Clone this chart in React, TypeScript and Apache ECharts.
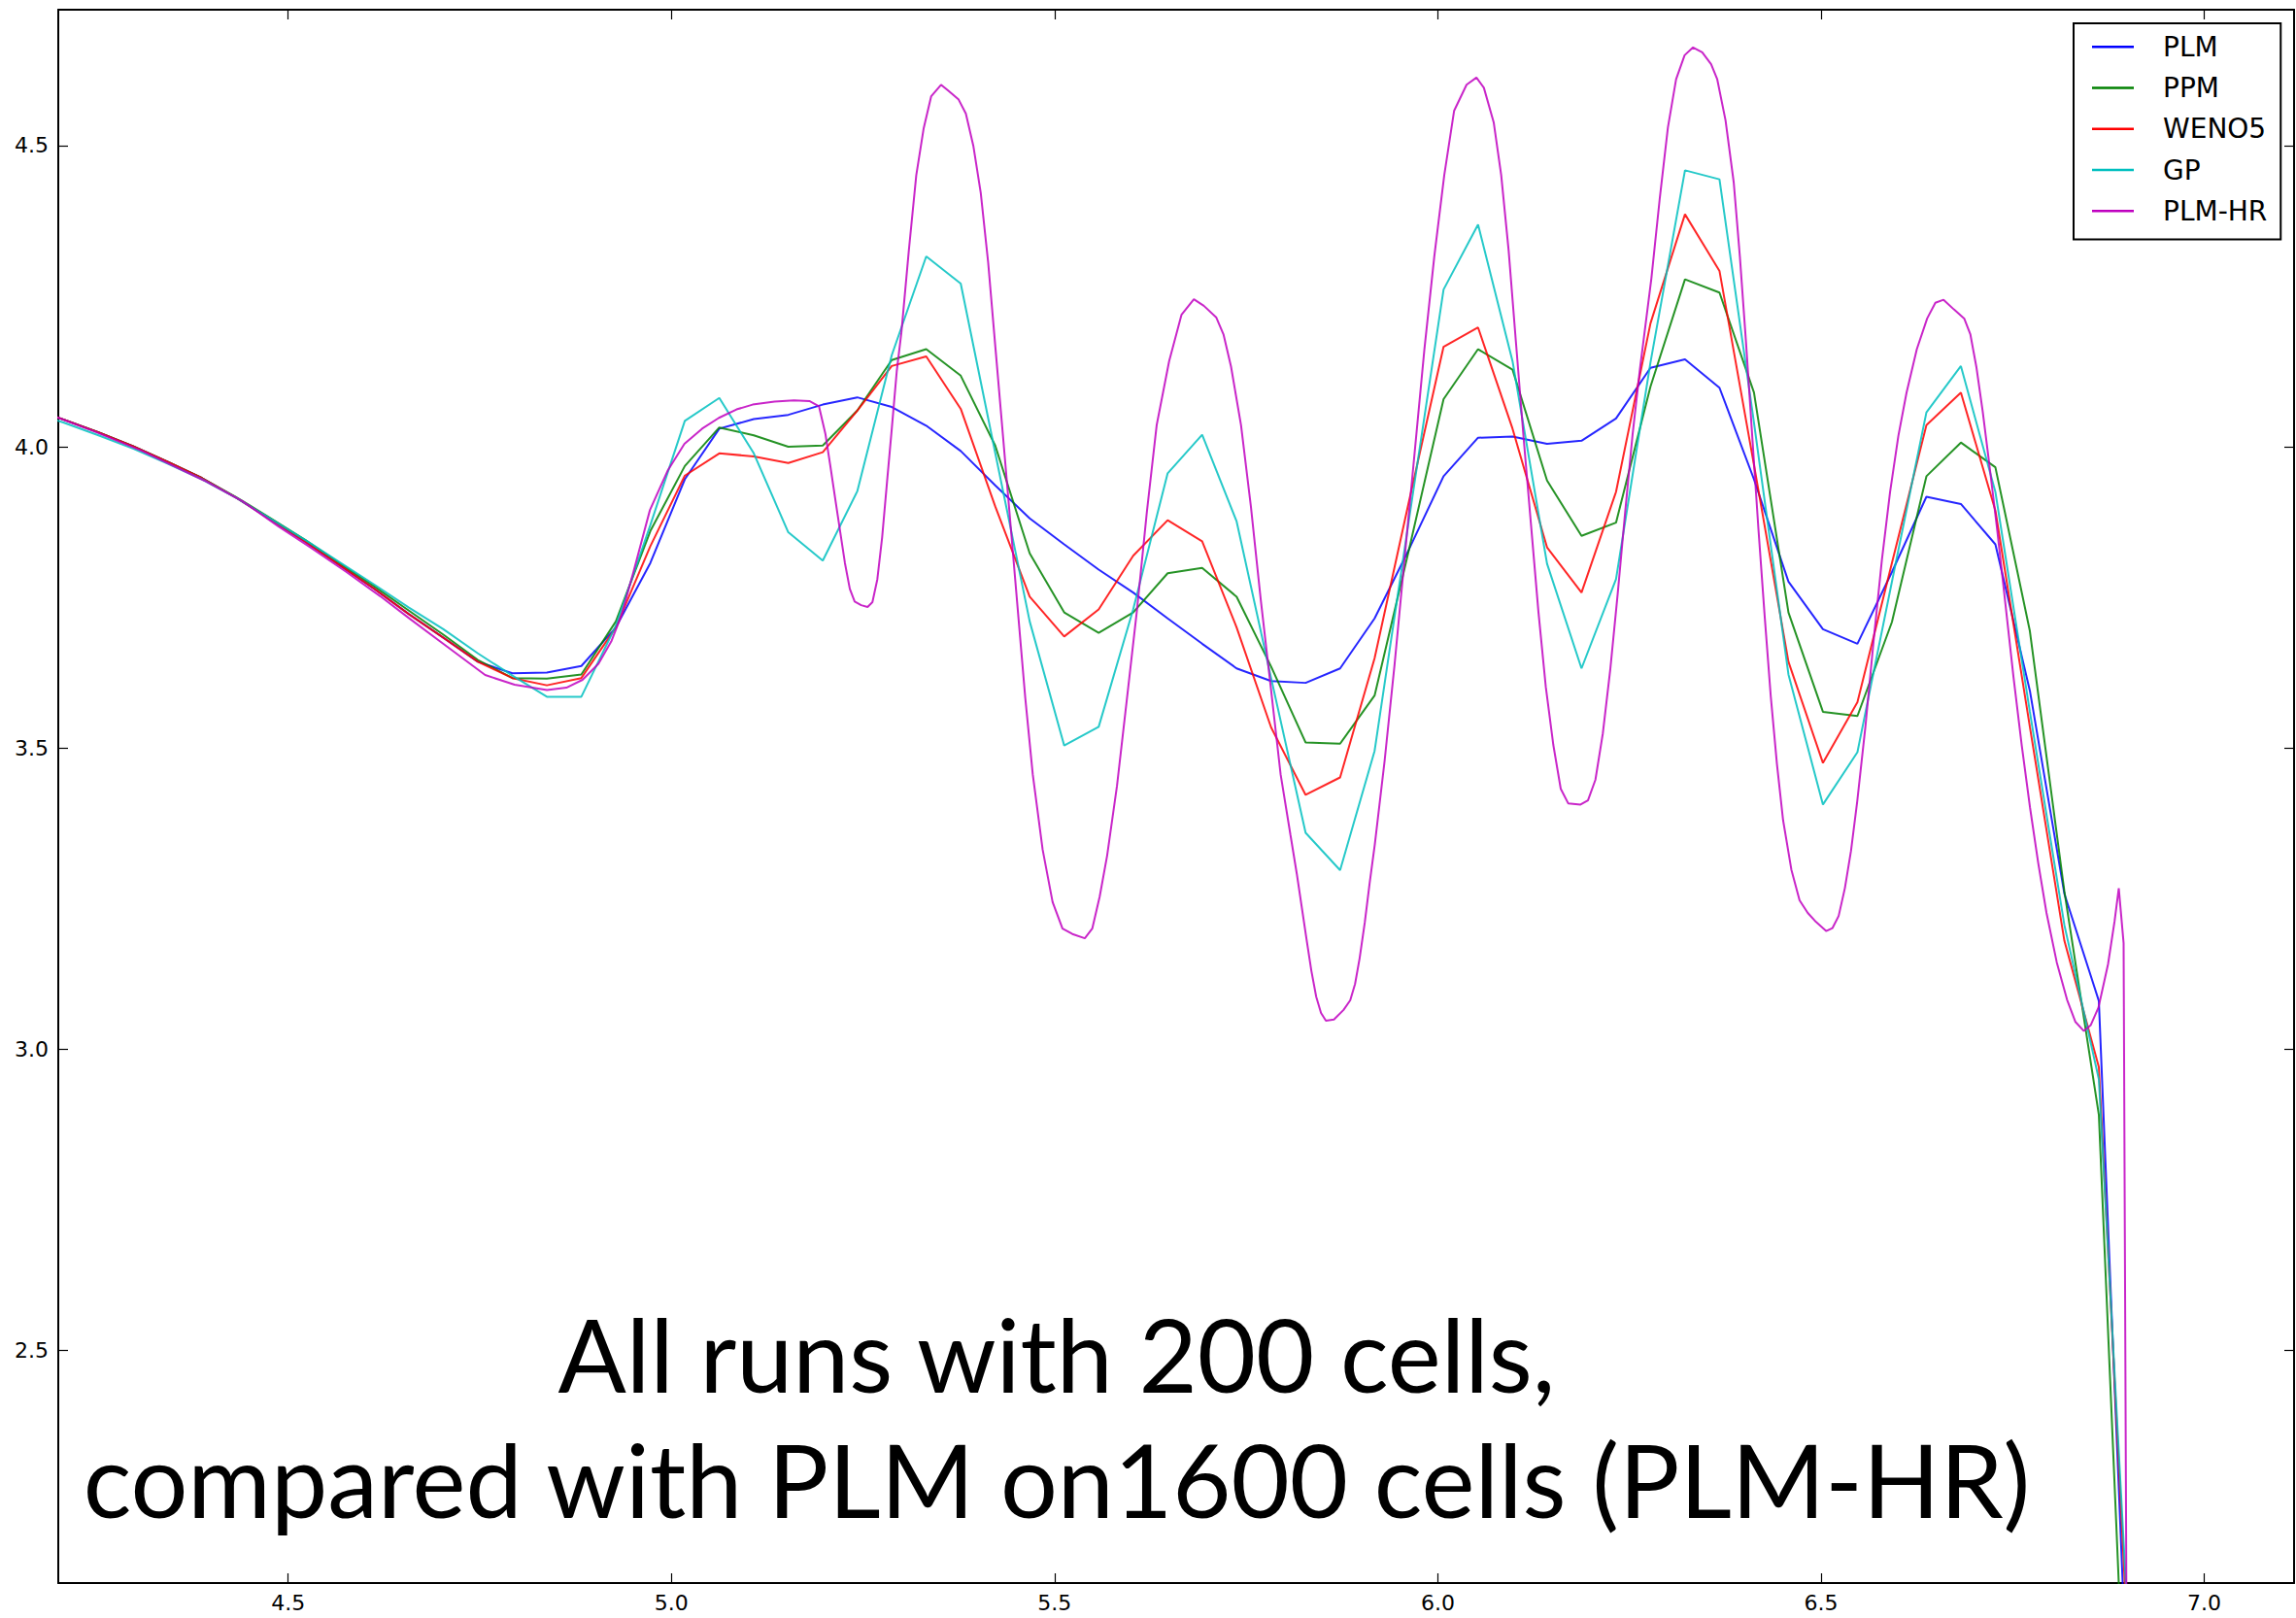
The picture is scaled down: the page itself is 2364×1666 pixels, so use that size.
import React, { useEffect, useRef } from "react";
import * as echarts from "echarts";

// Cell centres of the 200-cell runs (x)
const xCells = [
  4.1625, 4.2075, 4.2525, 4.2975, 4.3425, 4.3875, 4.4325, 4.4775, 4.5225, 4.5675,
  4.6125, 4.6575, 4.7025, 4.7475, 4.7925, 4.8375, 4.8825, 4.9275, 4.9725, 5.0175,
  5.0625, 5.1075, 5.1525, 5.1975, 5.2425, 5.2875, 5.3325, 5.3775, 5.4225, 5.4675,
  5.5125, 5.5575, 5.6025, 5.6475, 5.6925, 5.7375, 5.7825, 5.8275, 5.8725, 5.9175,
  5.9625, 6.0075, 6.0525, 6.0975, 6.1425, 6.1875, 6.2325, 6.2775, 6.3225, 6.3675,
  6.4125, 6.4575, 6.5025, 6.5475, 6.5925, 6.6375, 6.6825, 6.7275, 6.7725, 6.8175,
  6.8625, 6.9075,
];

const plm = [
  4.064, 4.045, 4.024, 4.001, 3.975, 3.948, 3.915, 3.879, 3.842, 3.803,
  3.764, 3.722, 3.683, 3.643, 3.624, 3.625, 3.636, 3.700, 3.807, 3.946,
  4.030, 4.046, 4.053, 4.070, 4.082, 4.066, 4.035, 3.993, 3.936, 3.881,
  3.838, 3.796, 3.758, 3.715, 3.673, 3.632, 3.611, 3.608, 3.632, 3.715,
  3.830, 3.951, 4.015, 4.017, 4.005, 4.010, 4.047, 4.131, 4.145, 4.098,
  3.946, 3.776, 3.697, 3.673, 3.792, 3.917, 3.905, 3.838, 3.595, 3.258,
  3.080, 1.680,
];

const ppm = [
  4.064, 4.045, 4.024, 4.001, 3.975, 3.948, 3.916, 3.881, 3.845, 3.806,
  3.768, 3.728, 3.688, 3.646, 3.616, 3.615, 3.622, 3.710, 3.860, 3.968,
  4.032, 4.019, 4.000, 4.002, 4.060, 4.144, 4.162, 4.118, 4.002, 3.823,
  3.725, 3.691, 3.725, 3.790, 3.799, 3.751, 3.635, 3.509, 3.507, 3.587,
  3.830, 4.079, 4.162, 4.128, 3.944, 3.852, 3.874, 4.100, 4.278, 4.256,
  4.090, 3.725, 3.560, 3.553, 3.709, 3.951, 4.007, 3.966, 3.694, 3.262,
  2.891, 1.545,
];

const weno5 = [
  4.064, 4.045, 4.024, 4.001, 3.975, 3.948, 3.915, 3.879, 3.842, 3.803,
  3.764, 3.722, 3.683, 3.643, 3.616, 3.604, 3.616, 3.700, 3.835, 3.952,
  3.989, 3.984, 3.973, 3.991, 4.060, 4.134, 4.150, 4.063, 3.901, 3.751,
  3.685, 3.730, 3.819, 3.878, 3.843, 3.700, 3.534, 3.422, 3.451, 3.649,
  3.910, 4.166, 4.198, 4.030, 3.833, 3.758, 3.925, 4.205, 4.386, 4.292,
  3.970, 3.643, 3.475, 3.576, 3.807, 4.036, 4.090, 3.894, 3.535, 3.180,
  2.970, 1.830,
];

const gp = [
  4.058, 4.040, 4.019, 3.997, 3.972, 3.946, 3.915, 3.880, 3.845, 3.808,
  3.771, 3.733, 3.697, 3.657, 3.620, 3.585, 3.585, 3.703, 3.870, 4.043,
  4.081, 3.989, 3.858, 3.811, 3.926, 4.152, 4.316, 4.271, 3.990, 3.710,
  3.504, 3.535, 3.730, 3.956, 4.020, 3.876, 3.616, 3.359, 3.297, 3.495,
  3.880, 4.261, 4.369, 4.142, 3.806, 3.632, 3.780, 4.140, 4.459, 4.444,
  4.040, 3.622, 3.406, 3.493, 3.776, 4.057, 4.134, 3.925, 3.560, 3.206,
  2.950, 1.880,
];

// PLM on 1600 cells
const hrX = [
  4.150, 4.2003, 4.250, 4.3095, 4.3903, 4.440, 4.487, 4.530, 4.576, 4.620,
  4.657, 4.700, 4.757, 4.7954, 4.8376, 4.863, 4.884, 4.905, 4.922, 4.935,
  4.950, 4.972, 4.995, 5.017, 5.040, 5.062, 5.085, 5.106, 5.1346, 5.160,
  5.180, 5.1926, 5.201, 5.2074, 5.2137, 5.2201, 5.2264, 5.2328, 5.2391, 5.2476,
  5.256, 5.2623, 5.2687, 5.275, 5.2813, 5.2877, 5.294, 5.3001, 5.3098, 5.3195,
  5.3292, 5.339, 5.3518, 5.3615, 5.3745, 5.3842, 5.3939, 5.4036, 5.4133, 5.423,
  5.4327, 5.4424, 5.4521, 5.4618, 5.4715, 5.4844, 5.4974, 5.5103, 5.5232, 5.5394,
  5.5491, 5.5588, 5.5685, 5.5814, 5.5944, 5.6073, 5.6203, 5.6332, 5.6494, 5.6655,
  5.6817, 5.6947, 5.7108, 5.7205, 5.7302, 5.7432, 5.7561, 5.769, 5.782, 5.7949,
  5.8078, 5.816, 5.8223, 5.8286, 5.835, 5.8413, 5.8476, 5.854, 5.8645, 5.877,
  5.8857, 5.892, 5.898, 5.9047, 5.911, 5.9178, 5.9307, 5.9437, 5.9566, 5.9696,
  5.9825, 5.9954, 6.0084, 6.0213, 6.0375, 6.0504, 6.0601, 6.073, 6.0827, 6.0924,
  6.1021, 6.1118, 6.1215, 6.1312, 6.1409, 6.1507, 6.1604, 6.1701, 6.1862, 6.1959,
  6.2056, 6.2153, 6.225, 6.2347, 6.2444, 6.2541, 6.2638, 6.2787, 6.2894, 6.3002,
  6.3109, 6.322, 6.333, 6.345, 6.3566, 6.3646, 6.3754, 6.3861, 6.3941, 6.4022,
  6.4102, 6.4183, 6.4264, 6.4344, 6.4425, 6.4505, 6.4613, 6.472, 6.4827, 6.4935,
  6.5069, 6.515, 6.523, 6.5311, 6.5391, 6.5472, 6.5579, 6.5687, 6.5794, 6.5901,
  6.6009, 6.6116, 6.625, 6.6385, 6.6492, 6.6599, 6.6734, 6.6868, 6.6948, 6.7029,
  6.7109, 6.719, 6.7297, 6.7405, 6.7512, 6.7619, 6.7727, 6.7834, 6.7942, 6.8076,
  6.821, 6.832, 6.843, 6.852, 6.862, 6.8745, 6.883, 6.8885, 6.8948, 6.9004,
];
const hrY = [
  4.071, 4.048, 4.024, 3.993, 3.944, 3.910, 3.868, 3.832, 3.792, 3.752,
  3.716, 3.675, 3.621, 3.605, 3.596, 3.600, 3.613, 3.640, 3.678, 3.721,
  3.790, 3.895, 3.960, 4.005, 4.030, 4.048, 4.062, 4.070, 4.075, 4.077,
  4.076, 4.067, 4.021, 3.968, 3.914, 3.860, 3.807, 3.764, 3.743, 3.737,
  3.734, 3.742, 3.780, 3.850, 3.941, 4.032, 4.125, 4.190, 4.326, 4.451,
  4.529, 4.582, 4.601, 4.591, 4.577, 4.553, 4.500, 4.422, 4.306, 4.161,
  4.017, 3.872, 3.727, 3.582, 3.456, 3.331, 3.244, 3.200, 3.191, 3.184,
  3.200, 3.253, 3.321, 3.437, 3.582, 3.727, 3.891, 4.036, 4.142, 4.219,
  4.245, 4.234, 4.215, 4.186, 4.133, 4.036, 3.901, 3.746, 3.601, 3.456,
  3.355, 3.291, 3.237, 3.183, 3.130, 3.087, 3.060, 3.047, 3.049, 3.065,
  3.081, 3.108, 3.151, 3.210, 3.275, 3.340, 3.480, 3.640, 3.814, 3.988,
  4.162, 4.316, 4.451, 4.558, 4.601, 4.613, 4.596, 4.538, 4.451, 4.326,
  4.171, 4.017, 3.872, 3.727, 3.601, 3.505, 3.432, 3.408, 3.406, 3.413,
  3.447, 3.524, 3.630, 3.756, 3.891, 4.020, 4.130, 4.280, 4.410, 4.530,
  4.610, 4.650, 4.663, 4.655, 4.635, 4.610, 4.542, 4.439, 4.316, 4.172,
  4.018, 3.864, 3.720, 3.586, 3.473, 3.380, 3.298, 3.247, 3.226, 3.211,
  3.196, 3.201, 3.221, 3.267, 3.329, 3.411, 3.535, 3.679, 3.812, 3.925,
  4.018, 4.090, 4.162, 4.213, 4.239, 4.244, 4.228, 4.213, 4.187, 4.131,
  4.059, 3.977, 3.864, 3.740, 3.617, 3.504, 3.401, 3.309, 3.226, 3.144,
  3.082, 3.045, 3.030, 3.040, 3.069, 3.141, 3.212, 3.267, 3.176, 1.500,
];

const seriesNames = ["PLM", "PPM", "WENO5", "GP", "PLM-HR"];
const seriesColors = ["#0000ff", "#008000", "#ff0000", "#00bfbf", "#bf00bf"];
const xTicks = [4.5, 5.0, 5.5, 6.0, 6.5, 7.0];
const yTicks = [2.5, 3.0, 3.5, 4.0, 4.5];
const annotationLines = ["All runs with 200 cells,", "compared with PLM on1600 cells (PLM-HR)"];

const X_MIN = 4.2;
const X_MAX = 7.1172;
const Y_MIN = 2.1135;
const Y_MAX = 4.7256;

export default function App() {
  const ref = useRef<HTMLDivElement>(null);

  useEffect(() => {
    if (!ref.current) return;
    const chart = echarts.init(ref.current, null, { renderer: "svg", width: 2364, height: 1666 });

    const coarse = [plm, ppm, weno5, gp].map((vals) => xCells.map((x, k) => [x, vals[k]]));
    const hr = hrX.map((x, k) => [x, hrY[k]]);
    const allData = [...coarse, hr];

    const tickFmt = (v: number) => v.toFixed(1);
    const axisLineStyle = { color: "#000", width: 2 };
    const tickStyle = { color: "#000", width: 1.2 };
    const labelStyle = { color: "#000", fontFamily: "DejaVu Sans", fontSize: 22 };

    const option: any = {
      animation: false,
      backgroundColor: "#fff",
      color: seriesColors,
      grid: { left: 60, top: 10, width: 2302, height: 1620, show: false },
      xAxis: [
        {
          type: "value", min: X_MIN, max: X_MAX, position: "bottom",
          axisLine: { show: true, onZero: false, lineStyle: axisLineStyle },
          axisTick: { show: true, inside: true, length: 10, customValues: xTicks, lineStyle: tickStyle },
          axisLabel: { show: true, customValues: xTicks, formatter: tickFmt, margin: 9, ...labelStyle },
          splitLine: { show: false },
        },
        {
          type: "value", min: X_MIN, max: X_MAX, position: "top",
          axisLine: { show: true, onZero: false, lineStyle: axisLineStyle },
          axisTick: { show: true, inside: true, length: 10, customValues: xTicks, lineStyle: tickStyle },
          axisLabel: { show: false },
          splitLine: { show: false },
        },
      ],
      yAxis: [
        {
          type: "value", min: Y_MIN, max: Y_MAX, position: "left",
          axisLine: { show: true, onZero: false, lineStyle: axisLineStyle },
          axisTick: { show: true, inside: true, length: 10, customValues: yTicks, lineStyle: tickStyle },
          axisLabel: { show: true, customValues: yTicks, formatter: tickFmt, margin: 10, ...labelStyle },
          splitLine: { show: false },
        },
        {
          type: "value", min: Y_MIN, max: Y_MAX, position: "right",
          axisLine: { show: true, onZero: false, lineStyle: axisLineStyle },
          axisTick: { show: true, inside: true, length: 10, customValues: yTicks, lineStyle: tickStyle },
          axisLabel: { show: false },
          splitLine: { show: false },
        },
      ],
      legend: {
        show: true,
        data: seriesNames,
        orient: "vertical",
        left: 2135,
        top: 24,
        padding: [3, 14, 8, 19],
        itemGap: 0,
        itemWidth: 43,
        itemHeight: 2.5,
        icon: "rect",
        borderColor: "#000",
        borderWidth: 2,
        backgroundColor: "#fff",
        selectedMode: false,
        textStyle: { color: "#000", fontFamily: "DejaVu Sans", fontSize: 28, lineHeight: 42.3, padding: [0, 0, 0, 25] },
      },
      series: seriesNames.map((name, k) => ({
        type: "line",
        name,
        data: allData[k],
        xAxisIndex: 0,
        yAxisIndex: 0,
        showSymbol: false,
        symbol: "none",
        clip: true,
        silent: true,
        z: 2 + k,
        itemStyle: { color: seriesColors[k] },
        lineStyle: { color: seriesColors[k], width: 2, opacity: 0.85 },
      })),
      graphic: annotationLines.map((t, k) => ({
        type: "text",
        x: 1088,
        y: k === 0 ? 1393 : 1522,
        z: 100,
        style: {
          text: t,
          fill: "#000",
          fontFamily: "Lato",
          fontSize: 104,
          textAlign: "center",
          align: "center",
          textVerticalAlign: "middle",
          verticalAlign: "middle",
        },
      })),
    };

    chart.setOption(option);
    return () => chart.dispose();
  }, []);

  return (
    <div
      ref={ref}
      style={{ position: "absolute", left: 0, top: 0, width: 2364, height: 1666, background: "#fff" }}
    />
  );
}
